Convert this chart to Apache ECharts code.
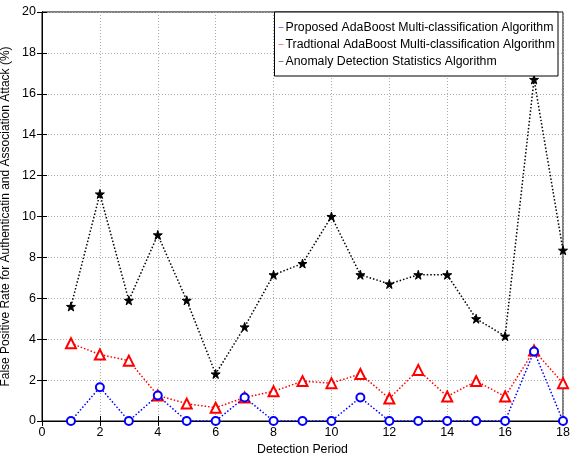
<!DOCTYPE html>
<html>
<head>
<meta charset="utf-8">
<script src="https://cdn.jsdelivr.net/npm/echarts@6/dist/echarts.min.js"></script>
<style>
  html, body { margin: 0; padding: 0; background: #fff; }
  #chart { width: 570px; height: 457px; }
</style>
</head>
<body>
<div id="chart"></div>
<script>
// detection periods
const periods = [1, 2, 3, 4, 5, 6, 7, 8, 9, 10, 11, 12, 13, 14, 15, 16, 17, 18];

// false positive rates (%)
const proposed = [0, 1.65, 0, 1.25, 0, 0, 1.15, 0, 0, 0, 1.15, 0, 0, 0, 0, 0, 3.4, 0];
const traditional = [3.8, 3.25, 2.95, 1.25, 0.85, 0.65, 1.15, 1.45, 1.95, 1.85, 2.3, 1.1, 2.5, 1.2, 1.95, 1.2, 3.45, 1.85];
const anomaly = [5.6, 11.1, 5.9, 9.1, 5.9, 2.3, 4.6, 7.15, 7.7, 10.0, 7.15, 6.7, 7.15, 7.15, 5.0, 4.15, 16.7, 8.35];

const seriesNames = [
  'Proposed AdaBoost Multi-classification Algorithm',
  'Tradtional AdaBoost Multi-classification Algorithm',
  'Anomaly Detection Statistics Algorithm'
];
const seriesColors = ['#0000ff', '#ff0000', '#000000'];

const star = 'path://M50,0 L61,35 L98,35 L68,57 L79,91 L50,70 L21,91 L32,57 L2,35 L39,35 Z';
const font = 'Liberation Sans, Arial, sans-serif';

const pairs = (vals) => periods.map((p, i) => [p, vals[i]]);

const chart = echarts.init(document.getElementById('chart'));

const axisCommon = {
  type: 'value',
  axisLine: { show: true, lineStyle: { color: '#000', width: 1 } },
  axisTick: { show: true, inside: true, length: 5, lineStyle: { color: '#000' } },
  axisLabel: { color: '#000', fontFamily: font, fontSize: 12.5 }
};

chart.setOption({
  animation: false,
  backgroundColor: '#fff',
  grid: {
    left: 42, right: 7, top: 12, bottom: 36,
    outerBoundsMode: 'none', containLabel: false,
    show: true, borderColor: '#000', borderWidth: 1
  },
  legend: {
    data: seriesNames.map((n, i) => ({
      name: n,
      itemStyle: { color: seriesColors[i], opacity: 0.5, borderWidth: 0 }
    })),
    orient: 'vertical',
    right: 12,
    top: 12,
    itemGap: 2,
    itemWidth: 5,
    itemHeight: 1,
    padding: [8, 3, 7, 4],
    backgroundColor: '#fff',
    borderColor: '#000',
    borderWidth: 1,
    borderRadius: 0,
    icon: 'rect',
    textStyle: { color: '#000', fontFamily: font, fontSize: 12.3, lineHeight: 15, padding: [0, 0, 0, -3] }
  },
  xAxis: [
    Object.assign({}, axisCommon, {
      min: 0, max: 18, interval: 2,
      name: 'Detection Period',
      nameLocation: 'middle',
      nameGap: 22,
      nameTextStyle: { color: '#000', fontFamily: font, fontSize: 12.3 },
      axisLabel: { color: '#000', fontFamily: font, fontSize: 12.5, margin: 5 },
      splitLine: { show: true, lineStyle: { color: '#aaa', type: [1, 2], width: 1 } }
    }),
    Object.assign({}, axisCommon, {
      position: 'top', min: 0, max: 18, interval: 2,
      axisLabel: { show: false }, splitLine: { show: false }
    })
  ],
  yAxis: [
    Object.assign({}, axisCommon, {
      min: 0, max: 20, interval: 2,
      name: 'False Positive Rate for Authenticatin and Association Attack (%)',
      nameLocation: 'middle',
      nameGap: 26,
      nameTextStyle: { color: '#000', fontFamily: font, fontSize: 12 },
      axisLabel: { color: '#000', fontFamily: font, fontSize: 12.5, margin: 6 },
      splitLine: { show: true, lineStyle: { color: '#aaa', type: [1, 2], width: 1 } }
    }),
    Object.assign({}, axisCommon, {
      position: 'right', min: 0, max: 20, interval: 2,
      axisLabel: { show: false }, splitLine: { show: false }
    })
  ],
  series: [
    {
      name: seriesNames[0],
      type: 'line',
      data: pairs(proposed),
      symbol: 'circle',
      symbolSize: 8,
      z: 4,
      lineStyle: { color: seriesColors[0], width: 1.5, type: [1.5, 2] },
      itemStyle: { color: '#fff', borderColor: seriesColors[0], borderWidth: 2 }
    },
    {
      name: seriesNames[1],
      type: 'line',
      data: pairs(traditional),
      symbol: 'triangle',
      symbolSize: 10,
      z: 3,
      lineStyle: { color: seriesColors[1], width: 1.5, type: [1.5, 2] },
      itemStyle: { color: '#fff', borderColor: seriesColors[1], borderWidth: 2 }
    },
    {
      name: seriesNames[2],
      type: 'line',
      data: pairs(anomaly),
      symbol: star,
      symbolSize: 9,
      z: 2,
      lineStyle: { color: seriesColors[2], width: 1.5, type: [1.5, 2] },
      itemStyle: { color: '#000', borderColor: '#000', borderWidth: 1 }
    }
  ]
});
</script>
</body>
</html>
